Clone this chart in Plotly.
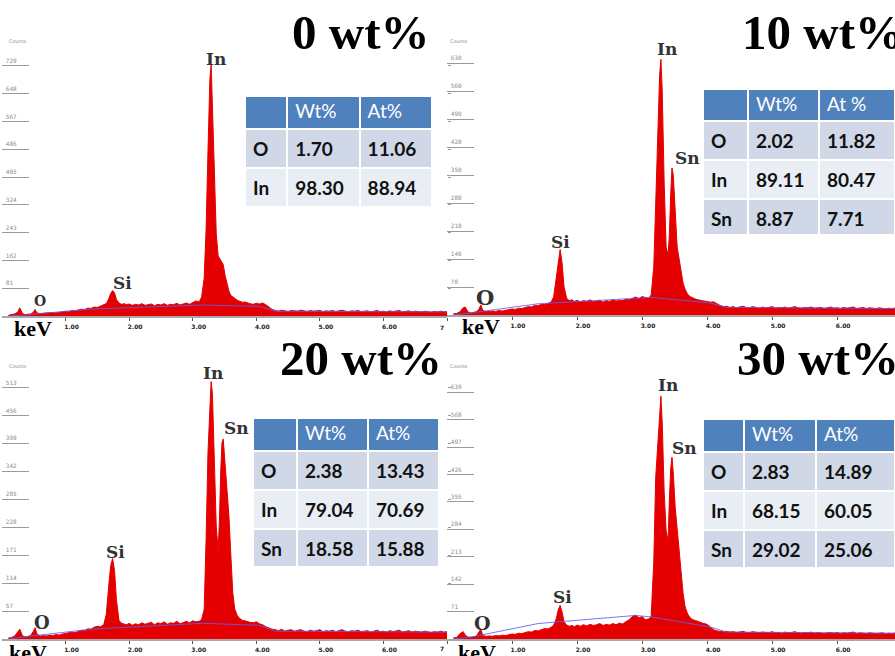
import plotly.graph_objects as go

W, H = 895, 656


def px(x):
    return x / W


def py(y):
    return 1 - y / H


# ---------------- spectrum data ----------------
# channel energies (keV), finer around the Si and In/Sn lines
energy = [
    0.10, 0.15, 0.20, 0.25, 0.28, 0.32, 0.36, 0.40, 0.45, 0.49, 0.52, 0.55, 0.60, 0.65, 0.70, 0.75, 0.80,
    0.85, 0.90, 0.95, 1.00, 1.05, 1.10, 1.15, 1.20, 1.25, 1.30, 1.35, 1.40, 1.45, 1.50, 1.55, 1.60,
    1.64, 1.68, 1.71, 1.74, 1.77, 1.80, 1.84, 1.88,
    1.92, 1.96, 2.00, 2.05, 2.10, 2.15, 2.20, 2.25, 2.30, 2.35, 2.40, 2.45, 2.50, 2.55, 2.60, 2.65, 2.70,
    2.75, 2.80, 2.85, 2.90, 2.95, 3.00, 3.05, 3.10,
    3.14, 3.18, 3.21, 3.24, 3.27, 3.29, 3.31, 3.34, 3.37, 3.40, 3.42, 3.44, 3.46, 3.48, 3.51, 3.54, 3.57,
    3.60, 3.63, 3.66, 3.70, 3.74, 3.78,
    3.82, 3.86, 3.90, 3.95, 4.00, 4.05, 4.10, 4.15, 4.20, 4.25,
    4.30, 4.35, 4.40, 4.45, 4.50, 4.55, 4.60, 4.65, 4.70, 4.75, 4.80,
    4.85, 4.90, 4.95, 5.00, 5.05, 5.10, 5.15, 5.20, 5.25, 5.30, 5.35,
    5.40, 5.45, 5.50, 5.55, 5.60, 5.65, 5.70, 5.75, 5.80, 5.85, 5.90,
    5.95, 6.00, 6.05, 6.10, 6.15, 6.20, 6.25, 6.30, 6.35, 6.40, 6.45,
    6.50, 6.55, 6.60, 6.65, 6.70, 6.75, 6.80, 6.85, 6.90, 6.95, 7.00,
]

counts_0 = [
    2, 4, 6, 12, 24, 8, 4, 5, 6, 10, 19, 9, 7, 8, 9, 8, 10, 9, 11, 12, 14, 13, 16, 15, 18, 20, 19, 23, 22, 26, 25, 29, 31,
    36, 50, 66, 74, 68, 48, 38, 34,
    36, 33, 35, 31, 34, 32, 36, 31, 33, 35, 30, 34, 32, 36, 31, 34, 33, 37, 32, 35, 38, 34, 40, 44, 41,
    55, 110, 250, 480, 690, 735, 620, 420, 240, 175, 168, 165, 158, 150, 118, 90, 72, 60, 55, 50, 46, 43, 40,
    41, 38, 36, 34, 37, 35, 38, 33, 27, 19,
    16, 14, 17, 15, 13, 16, 15, 14, 17, 15, 13,
    16, 14, 15, 16, 13, 15, 14, 16, 13, 15, 17,
    14, 13, 15, 14, 16, 13, 14, 15, 12, 14, 16,
    13, 14, 12, 15, 13, 14, 16, 12, 13, 15, 12,
    14, 13, 12, 14, 13, 11, 13, 12, 14, 12, 13,
]

counts_10 = [
    3, 4, 8, 18, 20, 8, 5, 6, 8, 14, 25, 12, 8, 9, 10, 9, 11, 10, 12, 13, 15, 14, 17, 16, 19, 21, 20, 24, 23, 27, 26, 30, 32,
    45, 95, 140, 164, 130, 70, 42, 36,
    38, 34, 37, 33, 36, 34, 38, 33, 35, 37, 32, 36, 34, 38, 35, 37, 36, 40, 38, 42, 45, 41, 46, 44, 42,
    50, 120, 280, 460, 600, 640, 560, 330, 170, 150, 200, 300, 368, 350, 260, 170, 140, 110, 80, 65, 52, 46, 42,
    40, 38, 36, 35, 34, 32, 33, 28, 24, 21,
    22, 19, 21, 18, 20, 22, 19, 18, 21, 19, 17,
    20, 18, 19, 21, 17, 19, 18, 20, 17, 19, 21,
    18, 17, 19, 18, 20, 17, 18, 19, 16, 18, 20,
    17, 18, 16, 19, 17, 18, 20, 16, 17, 19, 16,
    18, 17, 16, 18, 17, 15, 17, 16, 18, 16, 17,
]

counts_20 = [
    2, 3, 6, 14, 20, 7, 4, 5, 7, 15, 23, 10, 6, 7, 6, 8, 7, 9, 8, 10, 11, 12, 14, 13, 16, 18, 17, 21, 20, 24, 26, 25, 29,
    50, 110, 150, 164, 140, 80, 38, 32,
    31, 29, 32, 28, 31, 29, 33, 30, 32, 34, 29, 33, 31, 35, 30, 33, 32, 36, 31, 34, 36, 33, 37, 35, 36,
    40, 60, 200, 380, 470, 525, 500, 380, 230, 180, 240, 340, 400, 408, 360, 300, 250, 170, 95, 62, 48, 42, 38,
    37, 35, 34, 33, 35, 31, 29, 25, 22, 20,
    19, 17, 20, 16, 18, 19, 16, 17, 19, 16, 15,
    18, 16, 17, 19, 15, 17, 16, 18, 15, 17, 19,
    16, 15, 17, 16, 18, 15, 16, 17, 14, 16, 18,
    15, 16, 14, 17, 15, 16, 18, 14, 15, 17, 14,
    16, 15, 14, 16, 15, 13, 15, 14, 16, 14, 15,
]

counts_30 = [
    3, 4, 14, 19, 10, 5, 4, 5, 7, 18, 25, 9, 7, 8, 7, 9, 8, 10, 9, 11, 13, 12, 15, 14, 17, 19, 18, 22, 21, 25, 27, 26, 30,
    36, 52, 75, 87, 70, 45, 36, 33,
    35, 32, 36, 33, 37, 34, 38, 35, 37, 40, 35, 38, 36, 40, 37, 41, 39, 44, 50, 58, 62, 55, 58, 50, 52,
    58, 200, 420, 510, 600, 629, 560, 380, 280, 255, 360, 440, 471, 430, 340, 280, 220, 168, 120, 85, 65, 55, 50,
    48, 45, 42, 40, 38, 30, 24, 21, 20, 19,
    20, 18, 19, 17, 18, 20, 17, 16, 19, 17, 16,
    18, 17, 16, 19, 16, 17, 15, 18, 16, 17, 19,
    16, 15, 17, 16, 18, 15, 17, 16, 14, 16, 17,
    15, 17, 14, 16, 15, 17, 18, 14, 16, 15, 14,
    16, 15, 14, 15, 16, 13, 15, 14, 16, 15, 14,
]

# fitted background line
bg_energy = [0.10, 0.40, 1.40, 2.90, 3.15, 4.05, 4.30, 7.00]
bg_0 = [0, 4, 20, 30, 32, 28, 14, 12]
bg_10 = [0, 6, 28, 42, 44, 30, 19, 16]
bg_20 = [0, 5, 20, 30, 32, 28, 16, 14]
bg_30 = [0, 6, 40, 61, 57, 31, 18, 15]

# y-axis tick values (counts)
yticks_0 = [81, 162, 243, 324, 405, 486, 567, 648, 729]
yticks_10 = [70, 140, 210, 280, 350, 420, 490, 560, 630]
yticks_20 = [57, 114, 171, 228, 285, 342, 399, 456, 513]
yticks_30 = [71, 142, 213, 284, 355, 426, 497, 568, 639]

# x-axis ticks (keV); the last one is cut to "7" at the panel edge
xtick_vals = [1, 2, 3, 4, 5, 6, 7]
xtick_text = ["1.00", "2.00", "3.00", "4.00", "5.00", "6.00", ""]
edge_tick_text = "7"

# composition tables
elem_0 = ["O", "In"]
wt_0 = ["1.70", "98.30"]
at_0 = ["11.06", "88.94"]

elem_10 = ["O", "In", "Sn"]
wt_10 = ["2.02", "89.11", "8.87"]
at_10 = ["11.82", "80.47", "7.71"]

elem_20 = ["O", "In", "Sn"]
wt_20 = ["2.38", "79.04", "18.58"]
at_20 = ["13.43", "70.69", "15.88"]

elem_30 = ["O", "In", "Sn"]
wt_30 = ["2.83", "68.15", "29.02"]
at_30 = ["14.89", "60.05", "25.06"]

for arr in (counts_0, counts_10, counts_20, counts_30):
    assert len(arr) == len(energy)

# ---------------- styling ----------------
RED = "rgb(228,0,0)"
BLUE = "rgba(95,95,245,0.85)"
HEAD = "#4f81bd"
ROW_A = "#d0d8e8"
ROW_B = "#e9edf4"

panels = [
    dict(title="0 wt%", counts=counts_0, bg=bg_0, yt=yticks_0,
         xdom=(2, 447), xmax=7.0, ydom=(38, 316), ymax=810.6, right_ticks=True,
         title_pos=(291, 33), title_w=None, kev=(33, 329), cnt=(7, 41), seven=(442, 327),
         labels=[("In", 216, 59, 17), ("Si", 122, 283, 17), ("O", 40, 301, 14)],
         table=dict(e=elem_0, w=wt_0, a=at_0, hdr="At%", x=(245, 432), y=(96, 210),
                    cw=[42, 72, 72], hh=33, ch=37)),
    dict(title="10 wt%", counts=counts_10, bg=bg_10, yt=yticks_10,
         xdom=(447, 895), xmax=6.89, ydom=(38, 315), ymax=693.3, right_ticks=False,
         title_pos=(741, 33), title_w=154, kev=(481, 326), cnt=(448, 41), seven=None,
         labels=[("In", 667, 49, 17), ("Sn", 687, 158, 17), ("Si", 560, 242, 17), ("O", 485, 297, 21)],
         table=dict(e=elem_10, w=wt_10, a=at_10, hdr="At %", x=(703, 895), y=(89, 235),
                    cw=[45, 71, 76], hh=32, ch=37)),
    dict(title="20 wt%", counts=counts_20, bg=bg_20, yt=yticks_20,
         xdom=(2, 447), xmax=7.0, ydom=(362, 639), ymax=565.0, right_ticks=True,
         title_pos=(279, 358), title_w=None, kev=(28, 652), cnt=(7, 366), seven=(442, 648),
         labels=[("In", 213, 373, 17), ("Sn", 236, 428, 17), ("Si", 115, 552, 17), ("O", 42, 622, 18)],
         table=dict(e=elem_20, w=wt_20, a=at_20, hdr="At%", x=(253, 439), y=(418, 566),
                    cw=[44, 71, 71], hh=33, ch=37)),
    dict(title="30 wt%", counts=counts_30, bg=bg_30, yt=yticks_30,
         xdom=(447, 895), xmax=6.89, ydom=(362, 639), ymax=717.6, right_ticks=False,
         title_pos=(736, 358), title_w=159, kev=(477, 652), cnt=(448, 366), seven=None,
         labels=[("In", 668, 385, 17), ("Sn", 684, 448, 17), ("Si", 562, 597, 17), ("O", 482, 623, 19)],
         table=dict(e=elem_30, w=wt_30, a=at_30, hdr="At%", x=(703, 895), y=(419, 567),
                    cw=[41, 72, 79], hh=33, ch=37)),
]

fig = go.Figure()
annotations = []
layout_axes = {}


def bold(values):
    return [f"<b>{v}</b>" for v in values]


for i, p in enumerate(panels, start=1):
    xname = "x" if i == 1 else f"x{i}"
    yname = "y" if i == 1 else f"y{i}"
    xkey = "xaxis" if i == 1 else f"xaxis{i}"
    ykey = "yaxis" if i == 1 else f"yaxis{i}"

    fig.add_trace(go.Scatter(
        x=energy, y=p["counts"], mode="lines", line=dict(color=RED, width=1),
        fill="tozeroy", fillcolor=RED, xaxis=xname, yaxis=yname,
        hoverinfo="skip", showlegend=False))
    fig.add_trace(go.Scatter(
        x=bg_energy, y=p["bg"], mode="lines", line=dict(color=BLUE, width=1),
        xaxis=xname, yaxis=yname, hoverinfo="skip", showlegend=False))

    layout_axes[xkey] = dict(
        domain=[px(p["xdom"][0]), px(p["xdom"][1])], range=[0, p["xmax"]], anchor=yname,
        showline=True, linecolor="#a8a8a8", linewidth=2,
        ticks="outside", ticklen=3, tickwidth=1, tickcolor="#555555",
        tickvals=xtick_vals, ticktext=xtick_text,
        tickfont=dict(family="DejaVu Sans", size=6, color="#222222", weight="bold"),
        ticklabelshift=6, ticklabelstandoff=1,
        showgrid=False, zeroline=False, fixedrange=True)
    layout_axes[ykey] = dict(
        domain=[py(p["ydom"][1]), py(p["ydom"][0])], range=[0, p["ymax"]], anchor=xname,
        showline=False, ticks="inside", ticklen=27, tickwidth=1, tickcolor="#9a9a9a",
        tickvals=p["yt"], ticktext=[str(v) for v in p["yt"]],
        ticklabelposition="inside", ticklabelshift=-5, ticklabelstandoff=-25,
        tickfont=dict(family="DejaVu Sans Mono", size=6, color="#8c8c8c"),
        showgrid=False, zeroline=False, fixedrange=True)

    if p["right_ticks"]:
        rkey = f"yaxis{i + 4}"
        rname = f"y{i + 4}"
        layout_axes[rkey] = dict(
            overlaying=yname, side="right", anchor=xname, range=[0, p["ymax"]],
            tickvals=p["yt"], ticks="outside", ticklen=3, tickcolor="#9a9a9a",
            showticklabels=False, showline=False, showgrid=False, zeroline=False,
            fixedrange=True)
        fig.add_trace(go.Scatter(x=[None], y=[None], xaxis=xname, yaxis=rname,
                                 mode="lines", hoverinfo="skip", showlegend=False))

    # composition table
    t = p["table"]
    n = len(t["e"])
    rows = [ROW_A if k % 2 == 0 else ROW_B for k in range(n)]
    fig.add_trace(go.Table(
        domain=dict(x=[px(t["x"][0]), px(t["x"][1])], y=[py(t["y"][1]), py(t["y"][0])]),
        columnwidth=t["cw"],
        header=dict(values=["", "Wt%", t["hdr"]], fill_color=HEAD, align="left",
                    font=dict(family="Lato", size=19, color="white"),
                    height=t["hh"], line=dict(color="white", width=2)),
        cells=dict(values=[bold(t["e"]), bold(t["w"]), bold(t["a"])], fill_color=[rows] * 3,
                   align="left", font=dict(family="Lato", size=19, color="#111111", weight="bold"),
                   height=t["ch"], line=dict(color="white", width=2)),
    ))

    # title (right-hand titles run off the page edge and are clipped there)
    title = dict(
        text=p["title"], x=px(p["title_pos"][0]), y=py(p["title_pos"][1]),
        xref="paper", yref="paper", xanchor="left", yanchor="middle", showarrow=False,
        align="left", borderpad=0,
        font=dict(family="Liberation Serif", size=49, color="black", weight="bold"))
    if p["title_w"]:
        title["width"] = p["title_w"]
    annotations.append(title)
    # keV label
    annotations.append(dict(
        text="keV", x=px(p["kev"][0]), y=py(p["kev"][1]), xref="paper", yref="paper",
        xanchor="center", yanchor="middle", showarrow=False,
        font=dict(family="Liberation Serif", size=22, color="black", weight="bold")))
    # Counts label
    annotations.append(dict(
        text="Counts", x=px(p["cnt"][0]), y=py(p["cnt"][1]), xref="paper", yref="paper",
        xanchor="left", yanchor="middle", showarrow=False,
        font=dict(family="DejaVu Sans", size=5, color="#8c8c8c")))
    # clipped last tick label at the panel edge
    if p["seven"]:
        annotations.append(dict(
            text=edge_tick_text, x=px(p["seven"][0]), y=py(p["seven"][1]),
            xref="paper", yref="paper", xanchor="center", yanchor="middle", showarrow=False,
            font=dict(family="DejaVu Sans", size=6, color="#222222", weight="bold")))
    # peak labels
    for txt, lx, ly, size in p["labels"]:
        annotations.append(dict(
            text=txt, x=px(lx), y=py(ly), xref="paper", yref="paper",
            xanchor="center", yanchor="middle", showarrow=False,
            font=dict(family="DejaVu Serif", size=size, color="#333333", weight="bold")))

fig.update_layout(
    width=W, height=H, margin=dict(l=0, r=0, t=0, b=0),
    paper_bgcolor="white", plot_bgcolor="white", showlegend=False,
    annotations=annotations, **layout_axes)

fig.write_html("out.html")
